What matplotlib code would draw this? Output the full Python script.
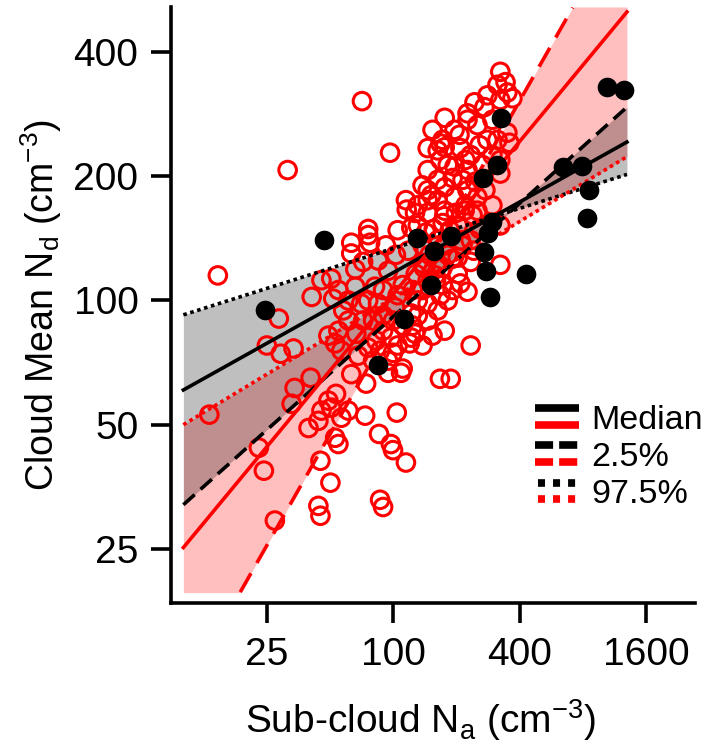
import numpy as np
import matplotlib.pyplot as plt
from matplotlib.lines import Line2D
from matplotlib.legend_handler import HandlerBase
from matplotlib.ticker import NullLocator

plt.rcParams['font.family'] = ['Liberation Sans', 'DejaVu Sans']
plt.rcParams['mathtext.default'] = 'regular'

# --- Werte ---
# schwarze Punkte (gefuellt)
black_x = [24.5, 47, 84.7, 112, 130, 157, 188, 152, 284, 272, 278, 290, 431,
           297, 268, 312, 328, 643, 790, 855, 840, 1050, 1260]
black_y = [95, 140, 69.9, 90.4, 142, 132, 143, 109, 146, 131, 118, 102, 116,
           155, 198, 213, 277, 211, 212, 185, 158, 329, 324]

# rote Kreise (offen)
red_x = [14.6, 13.3, 31.4, 71, 96.6, 22.9, 24.2, 27.3, 28.5, 25, 29.1, 33.5,
         40.4, 33.9, 32.8, 40.9, 45.5, 50.7, 51.8, 49.1, 52.9, 39.5, 44, 45.5,
         50.7, 45, 50.2, 44, 45, 52.9, 49.1, 53.4, 54.8, 73.5, 104, 85.6, 97.5,
         115, 86.6, 167, 188, 56.6, 61.1, 63.1, 74.3, 94.5, 109, 63.1, 76, 66,
         71.9, 54.8, 66, 81.9, 70.4, 84.7, 54.8, 61.1, 66.7, 76, 56.6, 97.5,
         99.8, 111, 94.5, 122, 120, 176, 234, 172, 203, 168, 226, 209, 324,
         234, 203, 128, 131, 146, 122, 102, 118, 324, 234, 324, 343, 350, 370,
         324, 244, 272, 226, 252, 176, 196, 226, 350, 358, 146, 163, 176, 209,
         234, 146, 168, 196, 226, 324, 324, 115, 146, 176, 146, 196, 226, 252,
         127, 146, 176, 219, 122, 76, 116, 63.1, 77.6, 99.8, 89.5, 127,
         131, 143, 156, 172, 186, 203, 163, 178, 138, 149, 163, 182, 138, 146,
         159, 172, 192, 182, 163, 146, 138, 124, 111, 105, 99.8, 111, 124, 131,
         154, 138, 105, 89.5, 89.5, 80.2, 83, 71.9, 68.1, 80.2, 86.6, 221, 239,
         258, 242, 214, 199, 163, 131, 138, 163, 192, 214, 246, 266, 297, 281,
         314, 297, 281, 314, 258, 207, 182, 172, 154, 221, 275, 297, 252, 103,
         94.5, 89.5, 76, 61.1, 57.8, 105, 92.3, 84.7,
         140, 160, 190, 152, 175, 210, 168]
red_y = [115, 52.9, 207, 304, 228, 44.0, 38.7, 29.3, 90.4, 77.8, 74.3, 76.5,
         65, 61.4, 56.2, 102, 112, 113, 101, 82.2, 78.7, 49.1, 51.1, 54.1,
         55, 40.9, 36.2, 31.8, 30.1, 46.5, 57.2, 59.4, 44.9, 52.6, 53.5, 47.5,
         44.9, 40.5, 32.9, 64.6, 64.6, 52, 54.1, 66.3, 62.9, 66.8, 66.8, 138,
         144, 119, 124, 106, 108, 108, 98.3, 98.3, 84.5, 89.4, 83.1, 76.9,
         75.6, 81.3, 74.7, 68.4, 71.5, 81.3, 78.7, 84.5, 77.8, 120, 116, 103,
         105, 110, 122, 124, 127, 116, 100, 98.3, 93, 96.2, 132, 152, 140, 358,
         338, 319, 309, 306, 302, 294, 284, 266, 277, 259, 274, 255, 241, 234,
         231, 235, 234, 225, 207, 219, 211, 207, 219, 203, 175, 185, 188, 175,
         178, 185, 178, 163, 163, 165, 165, 150, 149, 166, 130, 138, 43.4,
         31.6, 83.1,
         152, 146, 149, 154, 148, 152, 140, 136, 136, 129, 123, 129, 123, 112,
         115, 109, 106, 100, 94.6, 89.4, 106, 106, 109, 103, 89.4, 86.9, 86.9,
         92, 82.2, 77.8, 77.8, 84.5, 92, 89.4, 80, 89.4, 73.5, 71.5, 75.6, 170,
         161, 149, 132, 136, 163, 175, 170, 190, 196, 198, 196, 194, 213, 225,
         245, 245, 274, 314, 333, 238, 252, 213, 245, 259, 219, 185, 170, 165,
         129, 118, 106, 100, 100, 94.6, 148, 136, 125,
         120, 112, 126, 180, 160, 140, 240]

# Regressionsgeraden (Werte bei x = 10 und x = 1300)
fit_x = [10, 1300]
black_med = [60.7, 242]
black_lo = [32.0, 294]     # 2.5 %
black_hi = [92.3, 202]     # 97.5 %
red_med = [25.2, 500]
red_lo = [11.25, 872]      # 2.5 %
red_hi = [50.0, 223]       # 97.5 %

x_ticks = [25, 100, 400, 1600]
y_ticks = [25, 50, 100, 200, 400]

y_floor, y_ceil = 19.6, 514


def gerade(ends, xs):
    return 10 ** np.interp(np.log10(xs), np.log10(fit_x), np.log10(ends))


def maskiert(ys):
    return np.where((ys >= y_floor) & (ys <= y_ceil), ys, np.nan)


class ZweiFarben(HandlerBase):
    def __init__(self, ls):
        super().__init__()
        self.ls = ls

    def create_artists(self, legend, orig, xd, yd, w, h, fontsize, trans):
        arts = []
        for frac, col in [(0.85, 'black'), (0.15, 'red')]:
            l = Line2D([-xd, -xd + w], [h * frac - yd] * 2, color=col, lw=5.5,
                       ls=self.ls, transform=trans, solid_capstyle='butt',
                       dash_capstyle='butt')
            arts.append(l)
        return arts


fig = plt.figure(figsize=(7.08, 7.5), dpi=100)
ax = fig.add_axes([0.2415, 0.196, 0.740, 0.7947])

xs = np.geomspace(fit_x[0], fit_x[1], 500)

# Baender
ax.fill_between(xs, np.clip(gerade(red_lo, xs), y_floor, y_ceil),
                np.clip(gerade(red_hi, xs), y_floor, y_ceil),
                color='red', alpha=0.25, lw=0, zorder=1)
ax.fill_between(xs, np.clip(gerade(black_lo, xs), y_floor, y_ceil),
                np.clip(gerade(black_hi, xs), y_floor, y_ceil),
                color='black', alpha=0.25, lw=0, zorder=1)

ax.scatter(red_x, red_y, s=160, facecolors='none', edgecolors='red',
           linewidths=2.2, zorder=2)

lw = 2.6
ax.plot(xs, maskiert(gerade(black_med, xs)), color='black', lw=lw, zorder=3)
ax.plot(xs, maskiert(gerade(black_lo, xs)), color='black', lw=lw,
        ls=(0, (4.2, 2.2)), zorder=3)
ax.plot(xs, maskiert(gerade(black_hi, xs)), color='black', lw=lw,
        ls=(0, (1, 1)), zorder=3)
ax.plot(xs, maskiert(gerade(red_med, xs)), color='red', lw=lw, zorder=3)
ax.plot(xs, maskiert(gerade(red_lo, xs)), color='red', lw=lw,
        ls=(0, (6, 3.3)), zorder=3)
ax.plot(xs, maskiert(gerade(red_hi, xs)), color='red', lw=lw,
        ls=(0, (1, 1)), zorder=3)

ax.scatter(black_x, black_y, s=200, color='black', lw=0, zorder=4)

ax.set_xscale('log')
ax.set_yscale('log')
ax.set_xlim(8.73, 2740)
ax.set_ylim(18.5, 514)
ax.set_xticks(x_ticks)
ax.set_xticklabels([str(t) for t in x_ticks])
ax.set_yticks(y_ticks)
ax.set_yticklabels([str(t) for t in y_ticks])
ax.xaxis.set_minor_locator(NullLocator())
ax.yaxis.set_minor_locator(NullLocator())
ax.tick_params(axis='x', length=14.4, width=2.6, labelsize=28, pad=10)
ax.tick_params(axis='y', length=14.4, width=2.6, labelsize=28, pad=9)

for s in ['top', 'right']:
    ax.spines[s].set_visible(False)
for s in ['left', 'bottom']:
    ax.spines[s].set_linewidth(2.6)

ax.set_xlabel('Sub-cloud N$_a$ (cm$^{-3}$)', fontsize=28)
ax.set_ylabel('Cloud Mean N$_d$ (cm$^{-3}$)', fontsize=27)
ax.xaxis.set_label_coords(0.477, -0.158)
ax.yaxis.set_label_coords(-0.205, 0.5)

h_med = Line2D([], [], label='Median')
h_lo = Line2D([], [], label='2.5%')
h_hi = Line2D([], [], label='97.5%')
ax.legend(handles=[h_med, h_lo, h_hi],
          handler_map={h_med: ZweiFarben('-'),
                       h_lo: ZweiFarben((0, (2.37, 0.79))),
                       h_hi: ZweiFarben((1.58, (0.92, 1.05)))},
          loc='upper left', bbox_to_anchor=(0.695, 0.333), frameon=False,
          fontsize=24.5, handlelength=1.3, handletextpad=0.35,
          labelspacing=0.18, borderpad=0, borderaxespad=0)

fig.savefig('out.png', dpi=100)
